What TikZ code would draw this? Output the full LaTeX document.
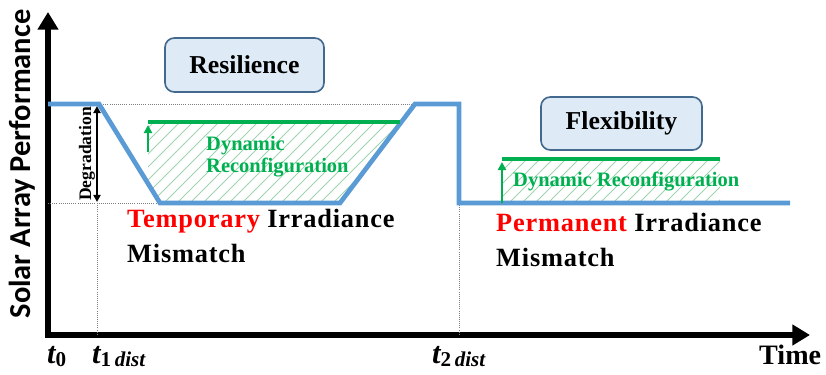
\documentclass[tikz,border=0pt]{standalone}
\usepackage{fontspec}
\setmainfont{Liberation Serif}
\newfontfamily\axisfont{Carlito}
\newfontfamily\widefont[LetterSpace=3]{Liberation Serif}
\usetikzlibrary{arrows.meta,positioning}
\definecolor{curveblue}{HTML}{5B9BD5}
\definecolor{dyngreen}{HTML}{00B050}
\definecolor{hatchgreen}{HTML}{9FD3B0}
\definecolor{boxfill}{HTML}{DEEAF6}
\definecolor{boxdraw}{HTML}{44698F}

\begin{document}
\begin{tikzpicture}[x=0.03cm,y=-0.03cm]
\tikzset{
    axisline/.style={line width=5pt, line join=miter, {Triangle[length=15pt,width=17pt]}-{Triangle[length=15pt,width=17pt]}},
    perfline/.style={curveblue, line width=4pt, line join=miter},
    guide/.style={gray, densely dotted, line width=0.8pt},
    dynline/.style={dyngreen, line width=3.5pt},
    dynarrow/.style={dyngreen, line width=1.8pt, -{Triangle[length=7pt,width=7pt]}},
    hatchline/.style={hatchgreen, line width=0.7pt},
    panel/.style={rectangle, rounded corners=8pt, draw=boxdraw, line width=1.4pt, fill=boxfill, font=\fontsize{22}{22}\selectfont\bfseries},
    mismatch/.style={anchor=base west, align=left, inner sep=0pt, font=\widefont\fontsize{22.5}{30}\selectfont\bfseries},
    dyntext/.style={anchor=base west, align=left, inner sep=0pt, text=dyngreen, font=\fontsize{17.5}{19.6}\selectfont\bfseries},
    ticklabel/.style={anchor=base west, inner sep=0pt, font=\fontsize{26}{26}\selectfont\bfseries\itshape}
}
\useasboundingbox (0,0) rectangle (826,375);

% axes
\coordinate (ytip) at (48,12);
\coordinate (origin) at (48,335);
\coordinate (xtip) at (810,335);
\draw[axisline] (ytip) -- (origin) -- (xtip);

% curve corners
\coordinate (start) at (48,104);
\coordinate (t1top) at (99,104);
\coordinate (dipleft) at (160,203);
\coordinate (dipright) at (340,203);
\coordinate (recov) at (415,104);
\coordinate (t2top) at (459,104);
\coordinate (t2low) at (459,203);
\coordinate (finish) at (790,203);

% dotted guides
\draw[guide] (t1top) -- (recov);
\draw[guide] (48,203) -- (dipleft);
\draw[guide] (97,203) -- (97,335);
\draw[guide] (t2low) -- (459,335);

% hatched areas
\begin{scope}
  \clip (148,122) -- (400,122) -- (dipright) -- (dipleft) -- (148,184) -- cycle;
  \foreach \x in {40,53,...,410}
    \draw[hatchline] (\x,210) -- ++(95,-95);
\end{scope}
\begin{scope}
  \clip (502,159) rectangle (720,203);
  \foreach \x in {450,463,...,720}
    \draw[hatchline] (\x,210) -- ++(55,-55);
\end{scope}

\draw[perfline] (start) -- (t1top) -- (dipleft) -- (dipright) -- (recov) -- (t2top) -- (t2low) -- (finish);

% dynamic reconfiguration
\coordinate (dynL) at (148,122);
\coordinate (dynLend) at (400,122);
\draw[dynline] (dynL) -- (dynLend);
\draw[dynarrow] (148,152) -- (148,125);
\node[dyntext] (dynleft) at (206,173) {Dynamic\\Reconfiguration};

\coordinate (dynR) at (502,159);
\coordinate (dynRend) at (720,159);
\draw[dynline] (dynR) -- (dynRend);
\draw[dynarrow] (502,203) -- (502,162);
\node[dyntext] (dynright) at (513,187) {Dynamic Reconfiguration};

% degradation
\coordinate (degtop) at (97,106);
\coordinate (degbot) at (97,202);
\draw[line width=1.5pt, {Triangle[length=6pt,width=6pt]}-{Triangle[length=6pt,width=6pt]}] (degtop) -- (degbot);
\node[rotate=90, font=\fontsize{15}{15}\selectfont\bfseries] (deg) at (87,154) {Degradation};

% boxes
\node[panel, minimum width=4.77cm, minimum height=1.62cm] (resil) at (244.5,65) {Resilience};
\node[panel, minimum width=4.83cm, minimum height=1.59cm] (flex) at (621.5,123.5) {Flexibility};

% mismatch texts
\node[mismatch] (temp) at (127,263) {{\color{red}Temporary} Irradiance\\Mismatch};
\node[mismatch] (perm) at (496,267) {{\color{red}Permanent} Irradiance\\Mismatch};

% axis labels
\node[rotate=90, font=\axisfont\bfseries\fontsize{26}{26}\selectfont] (ylab) at (22,164) {Solar Array Performance};
\node[anchor=base west, inner sep=0pt, font=\fontsize{24}{24}\selectfont\bfseries] (xlab) at (759,365) {Time};

\node[ticklabel] (t0) at (47,364) {t\raisebox{-0.2ex}{\fontsize{18}{18}\selectfont\upshape 0}};
\node[ticklabel] (t1) at (92,364) {t\raisebox{-0.2ex}{\fontsize{18}{18}\selectfont\upshape 1\,\itshape dist}};
\node[ticklabel] (t2) at (432,364) {t\raisebox{-0.2ex}{\fontsize{18}{18}\selectfont\upshape 2\,\itshape dist}};
\end{tikzpicture}
\end{document}
